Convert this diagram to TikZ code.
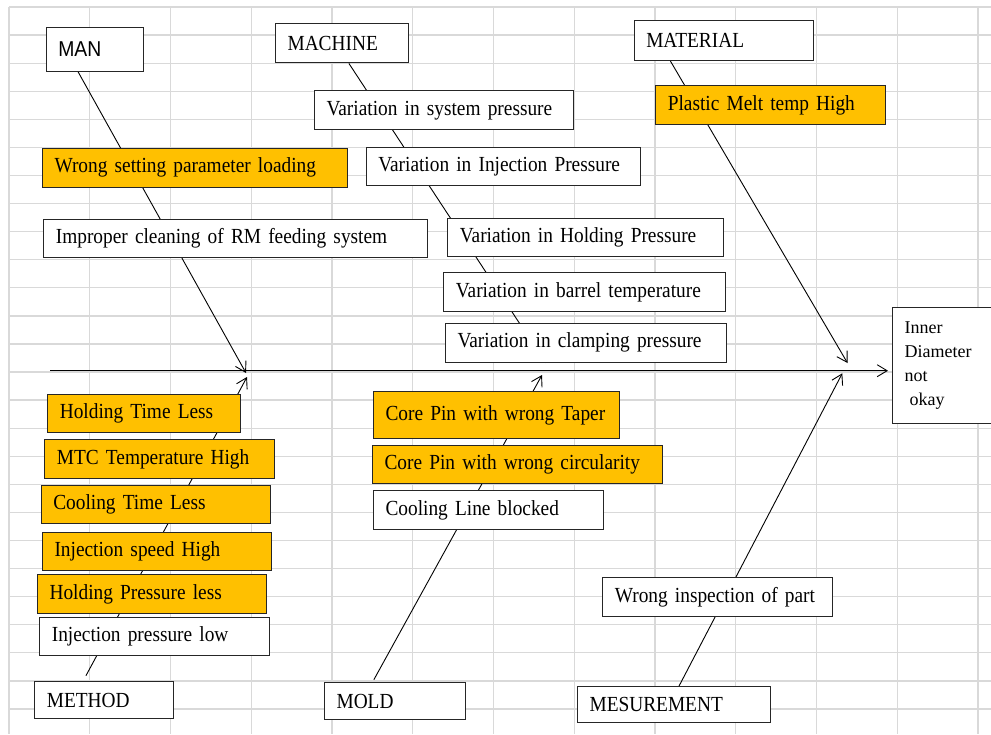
\documentclass[tikz,border=0pt]{standalone}
\usepackage{fontspec}
\setmainfont[FakeStretch=0.9,WordSpace=1.4]{Liberation Serif}
\newfontfamily\sansf[FakeStretch=0.9]{Liberation Sans}
\newfontfamily\efont{Liberation Serif}
\usetikzlibrary{arrows.meta,calc}
\pgfdeclarelayer{paper}
\pgfdeclarelayer{gridlayer}
\pgfdeclarelayer{bones}
\pgfsetlayers{paper,gridlayer,bones,main}
\definecolor{gridc}{RGB}{217,217,217}
\definecolor{gold}{RGB}{255,192,0}
\definecolor{edgec}{RGB}{38,38,38}
\tikzset{
  box/.style={draw=edgec, line width=1.1pt, fill=white, inner xsep=12pt, inner ysep=0pt,
    align=left, font=\fontsize{21.5}{24}\selectfont},
  hot/.style={box, fill=gold},
  bone/.style={draw=black, line width=0.9pt},
  arr/.style={bone, -{Straight Barb[length=10pt,width=12pt]}},
  gridline/.style={draw=gridc, line width=1.3pt}
}
% \cbox{name}{x1}{y1}{x2}{y2}{style}{text}
\newcommand\cbox[7]{%
  \pgfmathsetmacro\cbw{#4-#2}%
  \pgfmathsetmacro\cbh{#5-#3}%
  \pgfmathsetmacro\cbt{#4-#2-24}%
  \node[#6, minimum width=\cbw pt, minimum height=\cbh pt, text width=\cbt pt,
        anchor=north west] (#1) at (#2,#3) {\mbox{#7}};}
\begin{document}
\begin{tikzpicture}[x=1pt,y=-1pt]
\useasboundingbox (0,0) rectangle (991,734);
\begin{pgfonlayer}{paper}
  \fill[white] (0,0) rectangle (991,734);
\end{pgfonlayer}
% grid
\begin{pgfonlayer}{gridlayer}
  \foreach \i in {0,...,12} \draw[gridline] ({9+80.75*\i},7) -- ({9+80.75*\i},734);
  \foreach \j in {0,...,25} \draw[gridline] (9,{7+28.08*\j}) -- (991,{7+28.08*\j});
\end{pgfonlayer}

% category boxes
\cbox{man}{45.7}{26.7}{143}{70.7}{box}{\sansf MAN}
\cbox{machine}{275}{22.7}{408}{62.3}{box}{MACHINE}
\cbox{material}{633.7}{19.7}{812.7}{60}{box}{MATERIAL}
\cbox{method}{34.3}{681}{173}{718.3}{box}{METHOD}
\cbox{mold}{324}{682.3}{465.3}{718.7}{box}{MOLD}
\cbox{mes}{577}{686.3}{770}{722.3}{box}{MESUREMENT}

% man causes
\cbox{wsp}{42}{147.7}{346.7}{186.7}{hot}{Wrong setting parameter loading}
\cbox{icl}{43.3}{219}{427.3}{257.3}{box}{Improper cleaning of RM feeding system}

% machine causes
\cbox{vsp}{314}{90.3}{573.3}{129}{box}{Variation in system pressure}
\cbox{vip}{365.7}{146.7}{640.3}{185.3}{box}{Variation in Injection Pressure}
\cbox{vhp}{447.3}{217.7}{723.3}{256}{box}{Variation in Holding Pressure}
\cbox{vbt}{443.3}{272.3}{724.7}{311}{box}{Variation in barrel temperature}
\cbox{vcp}{445}{322.7}{726}{361.7}{box}{Variation in clamping pressure}

% material causes
\cbox{pmt}{655.3}{85.3}{884.7}{124}{hot}{Plastic Melt temp High}

% method causes
\cbox{htl}{47.3}{393.7}{239.7}{432.3}{hot}{Holding Time Less}
\cbox{mtc}{44.3}{439.3}{274}{478}{hot}{MTC Temperature High}
\cbox{ctl}{40.7}{485}{270}{523.3}{hot}{Cooling Time Less}
\cbox{ish}{42}{531.7}{271.3}{570}{hot}{Injection speed High}
\cbox{hpl}{37}{574.3}{266.3}{612.7}{hot}{Holding Pressure less}
\cbox{ipl}{39.3}{616.7}{268.7}{655.3}{box}{Injection pressure low}

% mold causes
\cbox{cpt}{373}{391}{618.7}{438}{hot}{Core Pin with wrong Taper}
\cbox{cpc}{372}{444.7}{661.7}{483.3}{hot}{Core Pin with wrong circularity}
\cbox{clb}{373}{490}{602.7}{528.7}{box}{Cooling Line blocked}

% measurement causes
\cbox{wip}{602.3}{576.7}{831.7}{615.7}{box}{Wrong inspection of part}

% effect
\node[box, font={\efont\fontsize{18}{24.3}\selectfont}, minimum width=118pt,
      minimum height=115.4pt, text width=94pt, anchor=north west] (effect) at (892,307.3)
  {Inner\\Diameter\\not\\\hspace*{5pt}okay};

% spine and bones
\coordinate (spine0) at (50,370.7);
\coordinate (tman) at (246,373);
\coordinate (tmeth) at (247,377);
\coordinate (tmold) at (542,375);
\coordinate (tmat) at (847.5,363);
\coordinate (tmes) at (842.3,373.3);

\begin{pgfonlayer}{bones}
  \draw[arr, shorten >=4pt] (spine0) -- (spine0 -| effect.west);
  \draw[arr] ($(man.south west)!0.329!(man.south east)$) -- (tman);
  \draw[bone] ($(machine.south west)!0.551!(machine.south east)$) -- ($(vcp.south west)!0.356!(vcp.south east)$);
  \draw[arr] ($(material.south west)!0.204!(material.south east)$) -- (tmat);
  \draw[arr, shorten <=6pt] ($(method.north west)!0.349!(method.north east)$) -- (tmeth);
  \draw[arr, shorten <=3pt] ($(mold.north west)!0.34!(mold.north east)$) -- (tmold);
  \draw[arr] ($(mes.north west)!0.525!(mes.north east)$) -- (tmes);
\end{pgfonlayer}
\end{tikzpicture}
\end{document}
